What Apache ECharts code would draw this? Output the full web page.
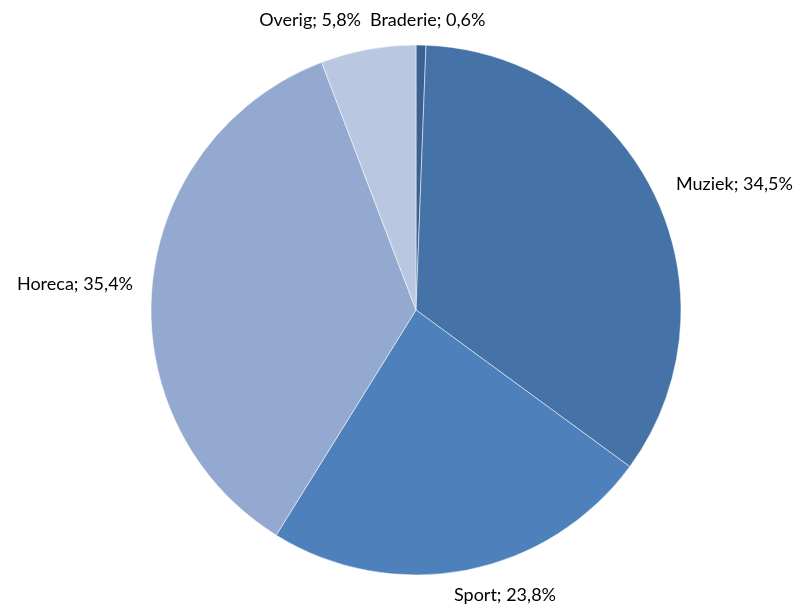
<!DOCTYPE html>
<html>
<head>
<meta charset="utf-8">
<script src="https://cdn.jsdelivr.net/npm/echarts@6/dist/echarts.min.js"></script>
<style>
    html, body { margin: 0; padding: 0; background: #fff; }
    #main { width: 794px; height: 606px; }
</style>
</head>
<body>
<div id="main"></div>
<script>
// categories en aandelen (%), met de klok mee vanaf 12 uur
const categories = ['Braderie', 'Muziek', 'Sport', 'Horeca', 'Overig'];
const shares = [0.6, 34.5, 23.8, 35.4, 5.8];
const colors = ['#3c6191', '#4573a8', '#4e80bc', '#94a9cf', '#bac7e0'];

// plek van de labels (zoals in Excel, los van de taart)
const labelSpots = [
    { x: 370, y: 20, align: 'left' },
    { x: 676, y: 184, align: 'left' },
    { x: 505, y: 595, align: 'center' },
    { x: 133, y: 284, align: 'right' },
    { x: 361, y: 20, align: 'right' }
];

const myChart = echarts.init(document.getElementById('main'));

myChart.setOption({
    animation: false,
    color: colors,
    series: [{
        type: 'pie',
        center: [416, 310],
        radius: 265,
        startAngle: 90,
        clockwise: true,
        avoidLabelOverlap: false,
        data: categories.map((name, i) => ({ name: name, value: shares[i] })),
        itemStyle: {
            borderColor: 'rgba(255,255,255,0.5)',
            borderWidth: 1
        },
        label: {
            show: true,
            position: 'outside',
            overflow: 'none',
            bleedMargin: 0,
            edgeDistance: 0,
            formatter: p => p.name + '; ' + p.value.toFixed(1).replace('.', ',') + '%',
            fontFamily: 'Lato',
            fontSize: 18,
            color: '#000'
        },
        labelLine: { show: false },
        labelLayout: p => {
            const s = labelSpots[p.dataIndex];
            return { x: s.x, y: s.y, align: s.align, verticalAlign: 'middle' };
        }
    }]
});
</script>
</body>
</html>
